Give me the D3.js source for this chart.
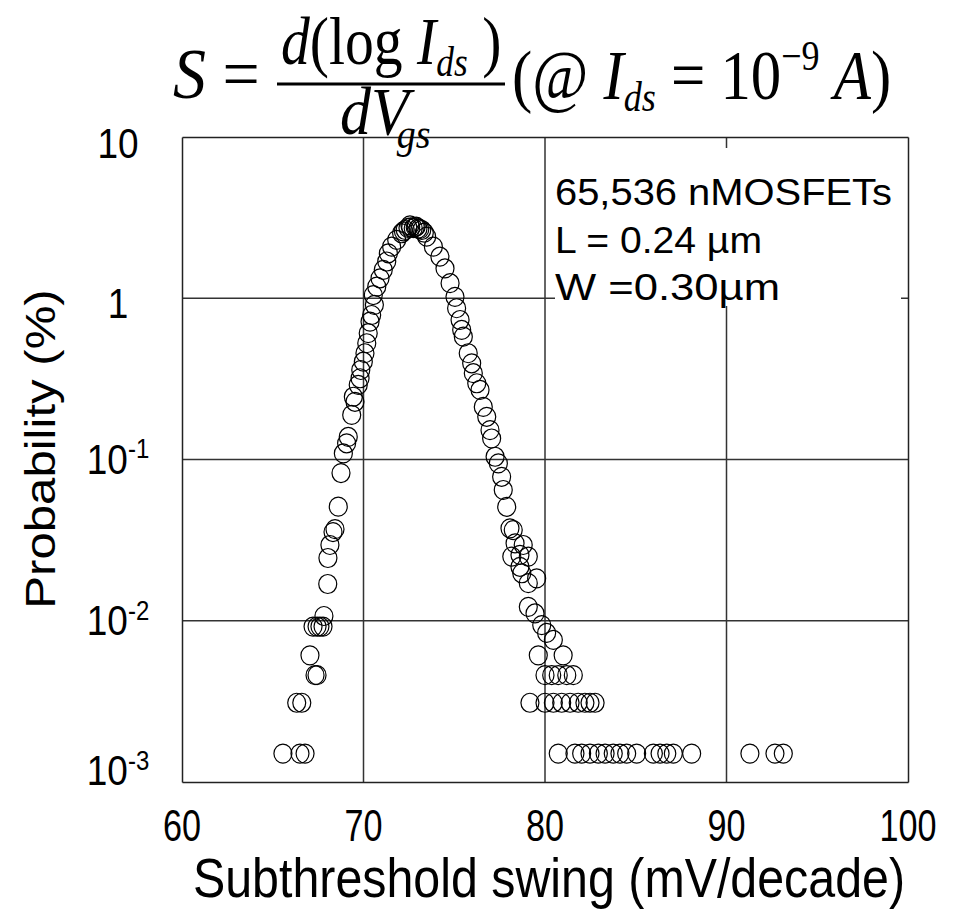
<!DOCTYPE html>
<html><head><meta charset="utf-8">
<script src="https://cdn.jsdelivr.net/npm/d3@7"></script>
<style>body{margin:0;background:#fff} svg{display:block}</style>
</head><body>
<svg id="chart" width="953" height="909"></svg>
<script>
// ---------- data ----------
const xTicks = [60, 70, 80, 90, 100];
const yTicks = [0.001, 0.01, 0.1, 1, 10];
const yTickBase = ["10", "10", "10", "1", "10"];
const yTickExp  = ["-3", "-2", "-1", "", ""];
const xTitle = "Subthreshold swing (mV/decade)";
const yTitle = "Probability (%)";
const noteLines = ["65,536 nMOSFETs", "L = 0.24 \u00b5m", "W =0.30\u00b5m"];

const swing = [
  65.56, 66.32, 66.50, 66.60, 66.78, 67.05, 67.22, 67.33, 67.44, 67.44, 67.60, 67.77, 67.82,
  68.03, 68.04, 68.15, 68.32, 68.43, 68.61, 68.76, 68.89, 69.07, 69.16, 69.35, 69.44, 69.53,
  69.71, 69.81, 69.85, 69.99, 70.08, 70.18, 70.26, 70.36, 70.45, 70.54, 70.60, 70.73, 70.91,
  71.09, 71.28, 71.37, 71.55, 71.83, 72.10, 72.20, 72.30, 72.45, 72.56, 72.60, 72.74, 72.85,
  72.90, 73.00, 73.10, 73.21, 73.35, 73.48, 73.85, 74.21, 74.49, 74.77, 75.04, 75.13, 75.32,
  75.41, 75.50, 75.77, 75.96, 76.05, 76.24, 76.42, 76.60, 76.79, 76.97, 77.06, 77.25, 77.43,
  77.61, 77.70, 77.89, 78.07, 78.17, 78.25, 78.35, 78.62, 78.62, 78.72, 78.80, 79.08, 79.08,
  79.08, 79.17, 79.45, 79.54, 79.63, 79.82, 80.00, 80.00, 80.09, 80.37, 80.46, 80.46, 80.73,
  80.73, 80.92, 81.00, 81.20, 81.38, 81.56, 81.65, 81.83, 82.02, 82.20, 82.48, 82.48, 82.76,
  82.94, 83.31, 83.76, 84.13, 84.50, 85.05, 85.97, 86.34, 86.71, 87.07, 88.08, 91.29, 92.67, 93.13
];
const prob = [
  0.0015, 0.0031, 0.0015, 0.0031, 0.0015, 0.0061, 0.0092, 0.0046, 0.0046, 0.0092, 0.0092, 0.0092, 0.0107,
  0.0169, 0.0245, 0.0295, 0.0355, 0.0370, 0.051, 0.0824, 0.109, 0.126, 0.138, 0.189, 0.245, 0.228,
  0.290, 0.319, 0.359, 0.404, 0.456, 0.526, 0.607, 0.716, 0.787, 1.047, 0.91, 1.18, 1.33,
  1.50, 1.69, 1.90, 2.09, 2.30, 2.53, 2.60, 2.65, 2.73, 2.83, 2.75, 2.72, 2.76,
  2.78, 2.70, 2.68, 2.65, 2.55, 2.41, 2.09, 1.81, 1.53, 1.24, 1.02, 0.867, 0.733,
  0.636, 0.578, 0.456, 0.395, 0.343, 0.297, 0.270, 0.212, 0.184, 0.152, 0.135, 0.104, 0.0946,
  0.0781, 0.0647, 0.0509, 0.0374, 0.0250, 0.0365, 0.0302, 0.0256, 0.0216, 0.0197, 0.0295, 0.0250, 0.0171,
  0.0122, 0.0031, 0.0111, 0.0183, 0.0061, 0.0094, 0.0046, 0.0031, 0.0084, 0.0046, 0.0076, 0.0031, 0.0046,
  0.0015, 0.0031, 0.0061, 0.0046, 0.0031, 0.0046, 0.0015, 0.0031, 0.0015, 0.0031, 0.0031, 0.0015, 0.0031,
  0.0015, 0.0015, 0.0015, 0.0015, 0.0015, 0.0015, 0.0015, 0.0015, 0.0015, 0.0015, 0.0015, 0.0015, 0.0015, 0.0015
];

// ---------- layout ----------
const svg = d3.select("#chart");
const L = 182, R = 908, T = 137, B = 782;
const SY = 1.17; // vertical stretch of glyphs in the reference
const FSY = 1.1;
const sans = "'Liberation Sans', Arial, sans-serif";
const serif = "'Liberation Serif', 'Times New Roman', serif";

const x = d3.scaleLinear().domain([60, 100]).range([L, R]);
const y = d3.scaleLog().domain([0.001, 10]).range([B, T]);

// grid
const grid = svg.append("g").attr("stroke", "#333").attr("stroke-width", 1.5);
grid.selectAll("line.v").data(xTicks.slice(1, -1)).join("line")
  .attr("x1", d => x(d)).attr("x2", d => x(d)).attr("y1", T).attr("y2", B);
grid.selectAll("line.h").data(yTicks.slice(1, -1)).join("line")
  .attr("x1", L).attr("x2", R).attr("y1", d => y(d)).attr("y2", d => y(d));

// axes (frame)
svg.append("g").attr("transform", `translate(0,${B})`)
  .call(d3.axisBottom(x).tickValues(xTicks).tickSize(0).tickFormat(""));
svg.append("g").attr("transform", `translate(0,${T})`)
  .call(d3.axisTop(x).tickValues([]).tickSize(0));
svg.append("g").attr("transform", `translate(${L},0)`)
  .call(d3.axisLeft(y).tickValues(yTicks).tickSize(0).tickFormat(""));
svg.append("g").attr("transform", `translate(${R},0)`)
  .call(d3.axisRight(y).tickValues([]).tickSize(0));
svg.selectAll(".domain").attr("stroke", "#222").attr("stroke-width", 1.5);

// x tick labels
svg.append("g").selectAll("text").data(xTicks).join("text")
  .attr("transform", d => `translate(${x(d)},841) scale(0.9,${SY})`)
  .attr("text-anchor", "middle").attr("font-family", sans).attr("font-size", 38)
  .attr("fill", "#000").text(d => d);

// y tick labels
const yLabelShift = [-11, 0, 0, 6, 7];
const yl = svg.append("g").selectAll("text").data(yTicks).join("text")
  .attr("transform", (d, i) => `translate(118,${y(d) + 14 + yLabelShift[i]}) scale(1,${SY})`)
  .attr("text-anchor", "middle").attr("font-family", sans).attr("font-size", 37)
  .attr("fill", "#000");
yl.append("tspan").text((d, i) => yTickBase[i]);
yl.append("tspan").attr("font-size", 24).attr("dy", -13).text((d, i) => yTickExp[i]);

// axis titles
svg.append("text")
  .attr("transform", `translate(193,897) scale(1,${SY})`)
  .attr("font-family", sans).attr("font-size", 47)
  .attr("textLength", 712).attr("lengthAdjust", "spacingAndGlyphs")
  .attr("fill", "#000").text(xTitle);
svg.append("text")
  .attr("transform", `translate(55,449) rotate(-90) scale(${SY},1)`)
  .attr("text-anchor", "middle").attr("font-family", sans).attr("font-size", 42)
  .attr("fill", "#000").text(yTitle);

// annotation box
svg.append("rect").attr("x", 555).attr("y", 148).attr("width", 346).attr("height", 158).attr("fill", "#fff");
const noteLen = [337, 207, 225];
noteLines.forEach((t, i) => {
  svg.append("text")
    .attr("transform", `translate(555,${205 + i * 47.5}) scale(1,${SY})`)
    .attr("font-family", sans).attr("font-size", 32).attr("fill", "#000")
    .attr("textLength", noteLen[i]).attr("lengthAdjust", "spacingAndGlyphs")
    .text(t);
});

// data points
svg.append("g").selectAll("ellipse").data(swing).join("ellipse")
  .attr("cx", (d, i) => x(d)).attr("cy", (d, i) => y(prob[i]))
  .attr("rx", 9).attr("ry", 9.5)
  .attr("fill", "none").attr("stroke", "#000").attr("stroke-width", 1.2);

// formula
const f = svg.append("g").attr("font-family", serif).attr("fill", "#000");
function ftext(xp, yp, size, sx, parts) {
  const t = f.append("text").attr("transform", `translate(${xp},${yp}) scale(${sx},${FSY})`).attr("font-size", size);
  parts.forEach(p => {
    const s = t.append("tspan").text(p.t);
    if (p.i) s.attr("font-style", "italic");
    if (p.s) s.attr("font-size", p.s);
    if (p.dy) s.attr("dy", p.dy);
    if (p.dx) s.attr("dx", p.dx);
  });
}
ftext(173, 98, 66, 1, [{t: "S", i: 1}, {t: " = "}]);
ftext(281, 64, 62, 0.93, [{t: "d", i: 1}, {t: "(log "}, {t: "I", i: 1}, {t: "ds", i: 1, s: 38, dy: 11}, {t: " )", dy: -11}]);
f.append("line").attr("x1", 277).attr("x2", 505).attr("y1", 84).attr("y2", 84).attr("stroke", "#000").attr("stroke-width", 3);
ftext(340, 134, 62, 1, [{t: "d", i: 1}, {t: "V", i: 1}, {t: "gs", i: 1, s: 38, dx: -12, dy: 13}]);
ftext(512, 99, 64, 0.95, [{t: "(@ "}, {t: "I", i: 1}, {t: "ds", i: 1, s: 38, dy: 11}, {t: " = 10", dy: -11},
  {t: "\u22129", s: 38, dy: -26}, {t: " A", i: 1, dy: 26}, {t: ")"}]);
</script>
</body></html>
